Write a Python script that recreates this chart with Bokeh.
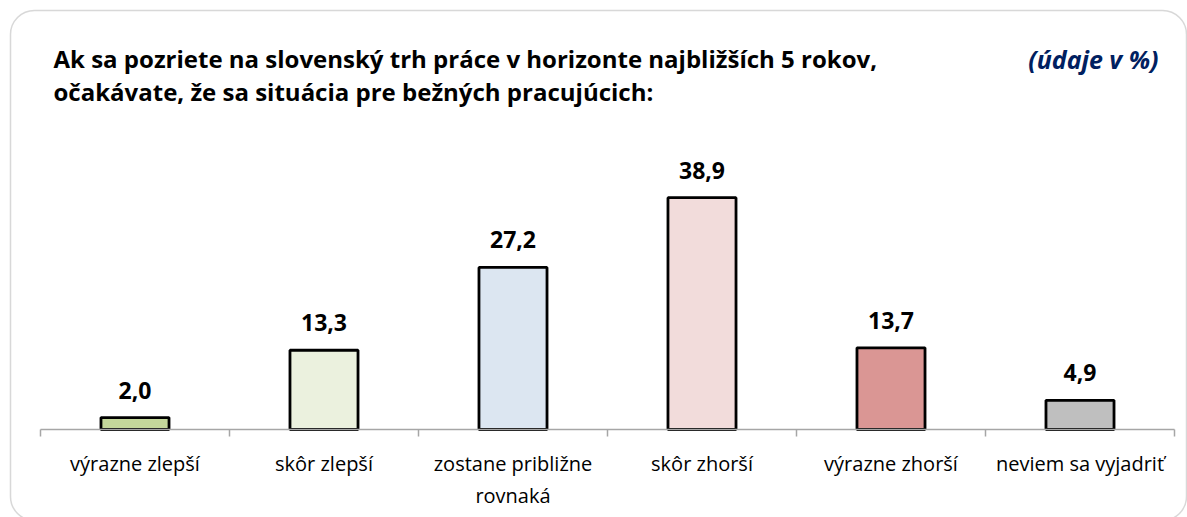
from bokeh.plotting import figure
from bokeh.models import (ColumnDataSource, FixedTicker, LinearAxis, Range1d,
                          Label, LabelSet, BoxAnnotation)
from bokeh.core.properties import value
from bokeh.embed import file_html
from bokeh.resources import INLINE

# ---- data ----
categories = ["výrazne zlepší", "skôr zlepší", "zostane približne\nrovnaká",
              "skôr zhorší", "výrazne zhorší", "neviem sa vyjadriť"]
values = [2.0, 13.3, 27.2, 38.9, 13.7, 4.9]
bar_colors = ["#c4d79b", "#ebf1de", "#dce6f1", "#f2dcdb", "#da9694", "#bfbfbf"]
title_line1 = "Ak sa pozriete na slovenský trh práce v horizonte najbližších 5 rokov,"
title_line2 = "očakávate, že sa situácia pre bežných pracujúcich:"
unit_note = "(údaje v %)"

FONT = "Open Sans"
W, H = 1187, 517
AX_L, AX_R, AX_Y = 40, 1174, 429   # axis extent on the canvas (px)
PX_PER_UNIT = 5.96

n = len(categories)
cw = (AX_R - AX_L) / n
xs = [i + 0.5 for i in range(n)]
src = ColumnDataSource(dict(
    x=xs, value=values, color=bar_colors,
    label=[f"{v:.1f}".replace(".", ",") for v in values],
))

p = figure(width=W, height=H, output_backend="svg", toolbar_location=None,
           x_range=Range1d(-AX_L / cw, n + (W - AX_R) / cw),
           y_range=Range1d(-(H - AX_Y) / PX_PER_UNIT, AX_Y / PX_PER_UNIT),
           min_border=0, x_axis_location=None, y_axis_location=None)
p.outline_line_color = None
p.grid.visible = False
p.background_fill_color = "white"
p.border_fill_color = "white"

p.vbar(x="x", top="value", bottom=0, width=0.36, fill_color="color",
       line_color="black", line_width=2.8, source=src)

ax = LinearAxis(
    fixed_location=0, bounds=(0, n),
    ticker=FixedTicker(ticks=xs, minor_ticks=list(range(n + 1))),
    major_label_overrides={x: c for x, c in zip(xs, categories)},
    major_tick_line_color=None, major_tick_in=0, major_tick_out=0,
    minor_tick_in=0, minor_tick_out=7, minor_tick_line_color="#a6a6a6",
    minor_tick_line_width=1.5,
    axis_line_color="#a6a6a6", axis_line_width=1.5,
    major_label_text_font=FONT, major_label_text_font_size="20px",
    major_label_text_color="black", major_label_standoff=13,
)
p.add_layout(ax, "below")

p.add_layout(LabelSet(x="x", y="value", text="label", source=src,
                      y_offset=19, text_align="center",
                      text_baseline="alphabetic", text_font=value(FONT),
                      text_font_style="bold", text_font_size="23px",
                      text_color="black"))

def sy(canvas_y):
    return H - canvas_y

p.add_layout(Label(x=53, y=sy(58), x_units="screen", y_units="screen",
                   text=title_line1, text_font=FONT, text_font_style="bold",
                   text_font_size="24px", text_color="black",
                   text_baseline="alphabetic"))
p.add_layout(Label(x=53, y=sy(91), x_units="screen", y_units="screen",
                   text=title_line2, text_font=FONT, text_font_style="bold",
                   text_font_size="24px", text_color="black",
                   text_baseline="alphabetic"))
p.add_layout(Label(x=1158, y=sy(58), x_units="screen", y_units="screen",
                   text=unit_note, text_font=FONT,
                   text_font_style="bold italic", text_font_size="25px",
                   text_color="#002060", text_align="right",
                   text_baseline="alphabetic"))

p.add_layout(BoxAnnotation(left=10, right=1186, top=sy(10), bottom=sy(520),
                           left_units="screen", right_units="screen",
                           top_units="screen", bottom_units="screen",
                           fill_color=None, fill_alpha=0,
                           line_color="#7f7f7f", line_width=1.5,
                           border_radius=24))

open("out.html", "w").write(file_html(p, INLINE))
